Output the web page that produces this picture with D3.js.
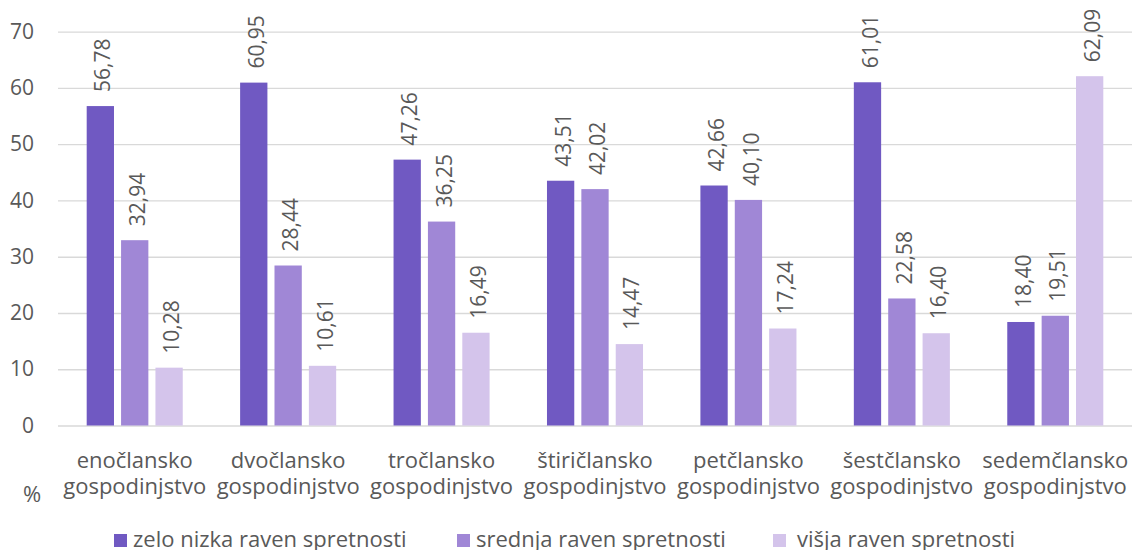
<!DOCTYPE html>
<html>
<head>
<meta charset="utf-8">
<script src="https://cdn.jsdelivr.net/npm/d3@7"></script>
<style>
  body { margin: 0; background: #fff; }
  svg text { font-family: "Open Sans", sans-serif; fill: #595959; }
</style>
</head>
<body>
<div id="graph"></div>
<script>
const categories = ["enočlansko", "dvočlansko", "tročlansko", "štiričlansko", "petčlansko", "šestčlansko", "sedemčlansko"]
const series = ["zelo nizka raven spretnosti", "srednja raven spretnosti", "višja raven spretnosti"]
const zeloNizka = [56.78, 60.95, 47.26, 43.51, 42.66, 61.01, 18.40]
const srednja = [32.94, 28.44, 36.25, 42.02, 40.10, 22.58, 19.51]
const visja = [10.28, 10.61, 16.49, 14.47, 17.24, 16.40, 62.09]
const yTicks = [0, 10, 20, 30, 40, 50, 60, 70]
const colors = ["#7059c2", "#a087d6", "#d4c4eb"]

const values = [zeloNizka, srednja, visja]

const W = 1137, H = 550
const plot = { left: 58, right: 1132, top: 31.7, bottom: 425.5 }

const svg = d3.select("#graph")
    .append("svg")
    .attr("width", W)
    .attr("height", H)

const fmt = d3.formatLocale({ decimal: ",", thousands: ".", grouping: [3], currency: ["", "€"] }).format(".2f")

const x0 = d3.scaleBand()
    .domain(categories)
    .range([plot.left, plot.right])
    .paddingInner(0.374)
    .paddingOuter(0.187)

const x1 = d3.scaleBand()
    .domain(series)
    .range([0, x0.bandwidth()])
    .paddingInner(0.206)

const y = d3.scaleLinear()
    .domain([0, 70])
    .range([plot.bottom, plot.top])

// gridlines
svg.append("g")
    .attr("transform", `translate(${plot.left},0)`)
    .call(d3.axisLeft(y).tickValues(yTicks).tickSize(-(plot.right - plot.left)).tickFormat(""))
    .call(g => g.select(".domain").remove())
    .call(g => g.selectAll("line").attr("stroke", "#d9d9d9").attr("stroke-width", 1.3))

// y labels
svg.append("g")
    .attr("transform", `translate(${plot.left},0)`)
    .call(d3.axisLeft(y).tickValues(yTicks).tickSize(0).tickPadding(24).tickFormat(d3.format("d")))
    .call(g => g.select(".domain").remove())
    .call(g => g.selectAll("text").style("font-size", "21px").attr("fill", "#595959"))

// bars
const groups = svg.selectAll(".grp")
    .data(categories)
    .enter()
    .append("g")
    .attr("class", "grp")
    .attr("transform", d => `translate(${x0(d)},0)`)

series.forEach((s, si) => {
    groups.append("rect")
        .attr("x", x1(s))
        .attr("y", (d, i) => y(values[si][i]))
        .attr("width", x1.bandwidth())
        .attr("height", (d, i) => y(0) - y(values[si][i]))
        .attr("fill", colors[si])

    groups.append("text")
        .attr("transform", (d, i) => `translate(${x1(s) + x1.bandwidth() / 2},${y(values[si][i]) - 14}) rotate(-90)`)
        .attr("dy", "0.48em")
        .style("font-size", "21px")
        .text((d, i) => fmt(values[si][i]))
})

// category labels
const catLabels = svg.append("g")
categories.forEach(c => {
    const cx = x0(c) + x0.bandwidth() / 2
    const t = catLabels.append("text")
        .attr("text-anchor", "middle")
        .style("font-size", "22px")
    t.append("tspan").attr("x", cx).attr("y", 468).text(c)
    t.append("tspan").attr("x", cx).attr("y", 494).text("gospodinjstvo")
})

svg.append("text")
    .attr("x", 32)
    .attr("y", 502)
    .attr("text-anchor", "middle")
    .style("font-size", "22px")
    .text("%")

// legend
const legendX = [114, 457, 773]
const legend = svg.selectAll(".leg")
    .data(series)
    .enter()
    .append("g")
    .attr("class", "leg")
    .attr("transform", (d, i) => `translate(${legendX[i]},534)`)

legend.append("rect")
    .attr("width", 13)
    .attr("height", 13)
    .attr("fill", (d, i) => colors[i])

legend.append("text")
    .attr("x", (d, i) => i == 2 ? 24 : 19)
    .attr("y", 13)
    .style("font-size", "22px")
    .text(d => d)
</script>
</body>
</html>
